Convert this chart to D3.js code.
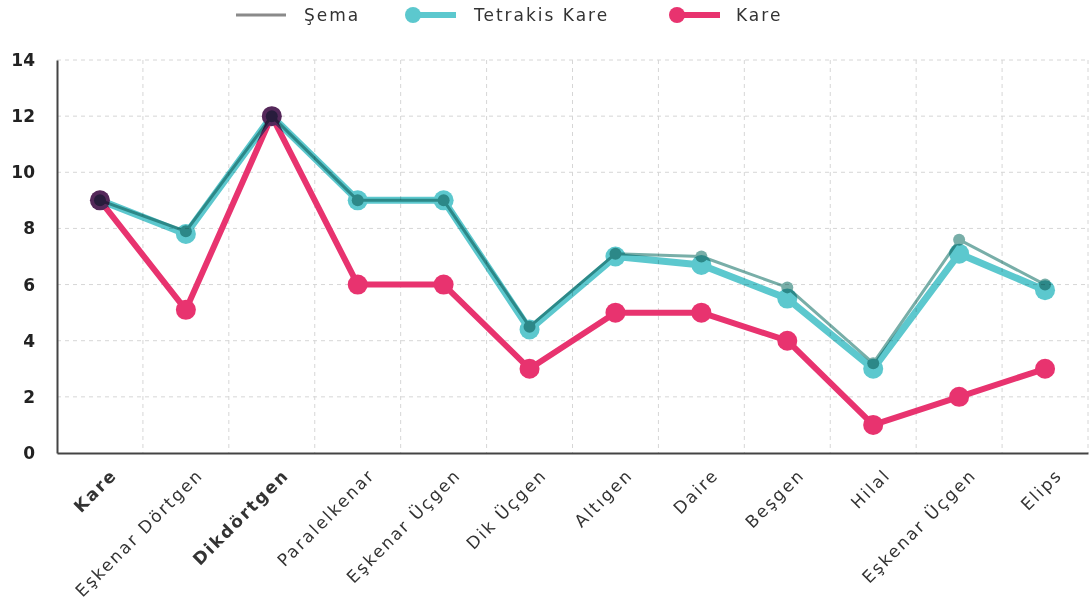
<!DOCTYPE html>
<html>
<head>
<meta charset="utf-8">
<script src="https://cdn.jsdelivr.net/npm/d3@7"></script>
<style>
  body { margin: 0; background: #fff; }
  text { font-family: "DejaVu Sans", Verdana, sans-serif; fill: #333; }
</style>
</head>
<body>
<svg id="chart" width="1091" height="610"></svg>
<script>
var categories = ["Kare", "Eşkenar Dörtgen", "Dikdörtgen", "Paralelkenar", "Eşkenar Üçgen", "Dik Üçgen",
                  "Altıgen", "Daire", "Beşgen", "Hilal", "Eşkenar Üçgen", "Elips"]
var boldLabels = [0, 2]
var semaValues = [9, 7.9, 12, 9, 9, 4.5, 7.1, 7, 5.9, 3.2, 7.6, 6]
var tetrakisValues = [9, 7.8, 12, 9, 9, 4.4, 7.0, 6.7, 5.5, 3.0, 7.1, 5.8]
var kareValues = [9, 5.1, 12, 6, 6, 3, 5, 5, 4, 1, 2, 3]
var yTicks = [0, 2, 4, 6, 8, 10, 12, 14]

var pink = "#e8336f", cyan = "#5cc8ce", sema = "#78aea8"

var svg = d3.select("#chart")
var plot = {x: 57, y: 60, width: 1031, height: 393}

var x = d3.scaleBand()
    .domain(d3.range(categories.length))
    .range([plot.x, plot.x + plot.width])
var y = d3.scaleLinear()
    .domain([0, 14])
    .range([plot.y + plot.height, plot.y])

function cx(i){ return x(i) + x.bandwidth()/2 }

// grid
var grid = svg.append("g").attr("class", "grid")
grid.selectAll("line.h")
    .data(yTicks.filter(function(d){ return d > 0 }))
    .enter().append("line")
    .attr("x1", plot.x).attr("x2", plot.x + plot.width)
    .attr("y1", function(d){ return y(d) }).attr("y2", function(d){ return y(d) })
    .style("stroke", "#d6d6d6").style("stroke-dasharray", "4,4").style("stroke-width", 1)
grid.selectAll("line.v")
    .data(d3.range(1, categories.length + 1))
    .enter().append("line")
    .attr("x1", function(d){ return x(0) + d*x.step() }).attr("x2", function(d){ return x(0) + d*x.step() })
    .attr("y1", plot.y).attr("y2", plot.y + plot.height)
    .style("stroke", "#d6d6d6").style("stroke-dasharray", "4,4").style("stroke-width", 1)

// axes
var yAxis = d3.axisLeft(y).tickValues(yTicks).tickSize(0).tickPadding(22)
var gy = svg.append("g").attr("transform", "translate(" + plot.x + ",0)").call(yAxis)
gy.select(".domain").style("stroke", "#444").style("stroke-width", 2)
gy.selectAll("text")
    .style("font-family", "'DejaVu Sans', sans-serif")
    .style("font-size", "17px").style("font-weight", "bold").style("fill", "#222")

var xAxis = d3.axisBottom(x).tickSize(0).tickFormat(function(i){ return categories[i] })
var gx = svg.append("g").attr("transform", "translate(0," + (plot.y + plot.height) + ")").call(xAxis)
gx.select(".domain").style("stroke", "#444").style("stroke-width", 2)
gx.selectAll("text")
    .style("font-family", "'DejaVu Sans', sans-serif")
    .style("font-size", "17px")
    .style("letter-spacing", "2px")
    .style("font-weight", function(i){ return boldLabels.indexOf(i) >= 0 ? "bold" : "normal" })
    .style("fill", "#333")
    .style("text-anchor", "end")
    .attr("dy", "0.35em")
    .attr("y", 0)
    .attr("transform", "translate(14,19) rotate(-45)")

// lines
var line = d3.line()
    .x(function(d, i){ return cx(i) })
    .y(function(d){ return y(d) })

var series = [
    {name: "Kare", values: kareValues, color: pink, width: 6, r: 10, blend: "normal"},
    {name: "Tetrakis Kare", values: tetrakisValues, color: cyan, width: 7, r: 10, blend: "multiply"},
    {name: "Şema", values: semaValues, color: sema, width: 3, r: 6, blend: "multiply"}
]

series.forEach(function(s){
    var g = svg.append("g").style("mix-blend-mode", s.blend).style("isolation", "isolate")
    g.append("path")
        .datum(s.values)
        .attr("d", line)
        .style("fill", "none")
        .style("stroke", s.color)
        .style("stroke-width", s.width)
        .style("stroke-linejoin", "round")
    g.selectAll("circle")
        .data(s.values)
        .enter().append("circle")
        .attr("cx", function(d, i){ return cx(i) })
        .attr("cy", function(d){ return y(d) })
        .attr("r", s.r)
        .style("fill", s.color)
})

// legend
var legendItems = [
    {name: "Şema", color: "#8a8a8a", x1: 236, x2: 286, tx: 304, dot: false, width: 3},
    {name: "Tetrakis Kare", color: cyan, x1: 410, x2: 456, tx: 474, dot: true, width: 6},
    {name: "Kare", color: pink, x1: 674, x2: 720, tx: 736, dot: true, width: 6}
]
var legend = svg.append("g")
legendItems.forEach(function(l){
    legend.append("line")
        .attr("x1", l.x1).attr("x2", l.x2)
        .attr("y1", 15).attr("y2", 15)
        .style("stroke", l.color).style("stroke-width", l.width)
    if(l.dot){
        legend.append("circle").attr("cx", l.x1 + 3).attr("cy", 15).attr("r", 8).style("fill", l.color)
    }
    legend.append("text")
        .attr("x", l.tx).attr("y", 15).attr("dy", "0.35em")
        .style("font-size", "17px")
        .style("letter-spacing", "2px")
        .style("fill", "#333")
        .text(l.name)
})
</script>
</body>
</html>
